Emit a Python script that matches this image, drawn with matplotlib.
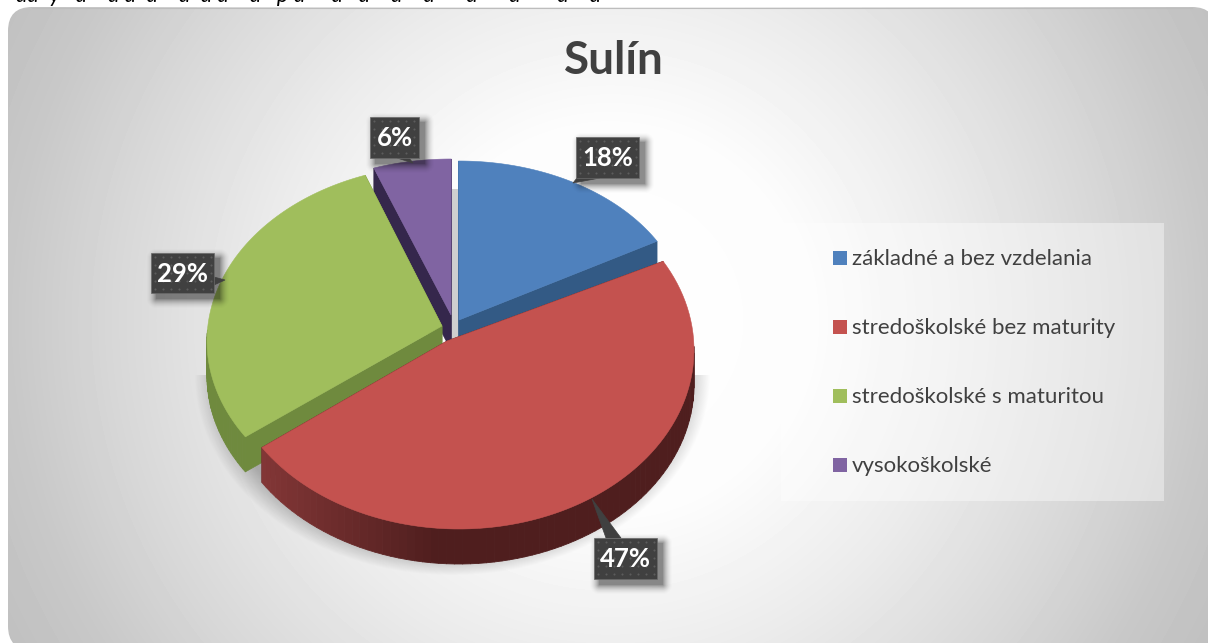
import matplotlib
matplotlib.use("Agg")
import matplotlib.pyplot as plt
import matplotlib.patches as patches
from matplotlib.collections import PolyCollection
import numpy as np

title = "Sulín"
categories = ["základné a bez vzdelania", "stredoškolské bez maturity",
              "stredoškolské s maturitou", "vysokoškolské"]
shares = [18, 47, 29, 6]

top_colors = ["#4f81bd", "#c4524f", "#a0be5c", "#8064a2"]
cut_colors = ["#335a85", "#4f1e1e", "#6f8a3e", "#35274c"]

# ellipse of each slice (cx, cy, rx, ry) and its tip, in pixels
ellipses = [(459, 320, 228, 159), (459, 350, 235, 179), (445, 341, 238, 176), (451, 315, 230, 156)]
tips = [(459, 320), (447, 341), (442, 326), (451, 315)]
thick = 35

# label box (x0, y0, x1, y1), pointer base and pointer end
boxes = [(576, 137, 639, 178), (594, 538, 657, 579), (151, 253, 214, 293), (370, 117, 419, 158)]
pointer_bases = [[(577, 178), (600, 178)], [(606, 538), (621, 538)], [(214, 277), (214, 285)], [(397, 158), (409, 158)]]
pointers = [(573, 183), (592, 499), (225, 280), (413, 163)]
legend_y = [258, 327, 396, 465]

plt.rcParams["font.family"] = ["Lato", "DejaVu Sans"]


def bump(t, mid, width):
    return np.exp(-((t - mid) / width) ** 2)


def warp(t):
    # the 3D view does not keep angles, boundaries move a few degrees on screen
    return t - 4.5 * bump(t, 65, 35) + 3 * bump(t, 234, 35) + 2 * bump(t, 338, 12)


def arc(e, t0, t1, n=90):
    t = np.radians(warp(np.linspace(t0, t1, n)))
    return e[0] + e[2] * np.sin(t), e[1] - e[3] * np.cos(t), t


def side_color(i, x):
    if i == 1:
        # red side goes dark towards the middle
        f = np.interp(x, [266, 440], [0, 1])
        a = np.array([0x82, 0x36, 0x36])
        b = np.array([0x4f, 0x1e, 0x1e])
        return tuple((a + (b - a) * f) / 255)
    if i == 2:
        return "#6f8a3e"
    return cut_colors[i]


def draw_slice(ax, i, t0, t1, z):
    e = ellipses[i]
    tip = tips[i]
    xs, ys, t = arc(e, t0, t1)
    # the two cut faces
    for px, py in [(xs[0], ys[0]), (xs[-1], ys[-1])]:
        ax.add_patch(patches.Polygon([tip, (px, py), (px, py + thick), (tip[0], tip[1] + thick)],
                                     closed=True, fc=cut_colors[i], ec=cut_colors[i], lw=0.5, zorder=z))
    # outer wall, only the front part of the ring can be seen
    quads = []
    colors = []
    for k in range(len(xs) - 1):
        if np.cos(t[k]) < 0.05:
            quads.append([(xs[k], ys[k]), (xs[k + 1], ys[k + 1]),
                          (xs[k + 1], ys[k + 1] + thick), (xs[k], ys[k] + thick)])
            colors.append(side_color(i, xs[k]))
    if quads:
        ax.add_collection(PolyCollection(quads, facecolors=colors, edgecolors=colors, linewidths=0.6, zorder=z + 0.1))
    pts = [tip] + list(zip(xs, ys))
    ax.add_patch(patches.Polygon(pts, closed=True, fc=top_colors[i], ec=top_colors[i], lw=0.4, zorder=z + 0.2))


def draw_label(ax, text, box, base, point):
    x0, y0, x1, y1 = box
    # blurred drop shadow
    yy, xx = np.mgrid[y0 - 6:y1 + 20, x0 - 6:x1 + 20]
    dx = np.maximum(np.maximum(x0 + 5 - xx, xx - (x1 + 5)), 0)
    dy = np.maximum(np.maximum(y0 + 5 - yy, yy - (y1 + 5)), 0)
    a = np.clip(1 - np.hypot(dx, dy) / 11.0, 0, 1) ** 2 * 0.45
    s = np.zeros(a.shape + (4,))
    s[..., 3] = a
    ax.imshow(s, extent=(x0 - 6, x1 + 20, y1 + 20, y0 - 6), aspect="auto", zorder=8)
    ax.add_patch(patches.Polygon(base + [point], closed=True, fc="#404040", ec="#404040", lw=0.5, zorder=8.1))
    ax.add_patch(patches.Rectangle((x0, y0), x1 - x0, y1 - y0, fc="#404040", ec="#6a6a6a", lw=0.5, zorder=8.1))
    gx, gy = np.meshgrid(np.arange(x0 + 4, x1 - 1, 8.0), np.arange(y0 + 4, y1 - 1, 8.0))
    ax.plot(gx.ravel(), gy.ravel(), ls="", marker="o", ms=1.5, mfc="#5c5c5c", mec="none", zorder=8.2)
    ax.text((x0 + x1) / 2, (y0 + y1) / 2 + 0.5, text, color="white", fontsize=18.5, fontweight="bold",
            ha="center", va="center", zorder=8.3)


fig = plt.figure(figsize=(12.08, 6.43), dpi=100, facecolor="white")
ax = fig.add_axes([0, 0, 1, 1])
ax.axis("off")

# what is left of the caption line above the chart, it is cut off in the source
ax.text(16, 2, "aa  y   a    a a  a    a  a a    a   p a     a   a    a    a      a      a       a    a", color="black",
        fontsize=16, style="italic", ha="left", va="baseline")

# background
yy, xx = np.mgrid[0:660, 0:1220]
r = np.hypot(xx - 610, yy - 320)
grey = np.interp(r, [0, 200, 350, 500, 600, 700], [255, 252, 235, 215, 200, 190]) / 255
im = ax.imshow(grey, cmap="gray", vmin=0, vmax=1, extent=(0, 1220, 660, 0), aspect="auto", zorder=1)
panel = patches.FancyBboxPatch((32, 31), 1160, 595, boxstyle="round,pad=24", fc="none", ec="none", zorder=1.1)
ax.add_patch(panel)
im.set_clip_path(panel)
ax.plot([32, 1192], [7.5, 7.5], color="#bdbdbd", lw=0.8, zorder=1.1)

# soft shadow under the pie
sy, sx = np.mgrid[375:577, 193:713]
d = np.hypot((sx - 452) / 258.0, (sy - 375) / 200.0)
shadow = np.zeros(d.shape + (4,))
shadow[..., 3] = 0.27 * np.clip((1 - d) / 0.11, 0, 1)
ax.imshow(shadow, extent=(193, 713, 577, 375), aspect="auto", zorder=1.5)

# strip seen in the gap between purple and blue
ax.add_patch(patches.Rectangle((450, 189), 10, 155, fc="#cfcfcf", ec="none", zorder=1.6))

angles = np.concatenate([[0], np.cumsum(shares)]) * 3.6
z = 2
for i in [3, 0, 2, 1]:
    draw_slice(ax, i, angles[i], angles[i + 1], z)
    z += 1

for i in range(len(shares)):
    draw_label(ax, f"{shares[i]}%", boxes[i], pointer_bases[i], pointers[i])

ax.text(613.5, 61, title, color="#404040", fontsize=33, fontweight="bold", ha="center", va="center", zorder=9)

# legend
ax.add_patch(patches.Rectangle((781, 223), 383, 278, fc="white", ec="none", alpha=0.4, zorder=1.7))
for i in range(len(categories)):
    ax.add_patch(patches.Rectangle((833, legend_y[i] - 7), 14, 14, fc=top_colors[i], ec="none", zorder=9))
    ax.text(852, legend_y[i] + 7, categories[i], color="#404040", fontsize=16, ha="left", va="baseline", zorder=9)

ax.set_xlim(0, 1208)
ax.set_ylim(643, 0)
fig.savefig("out.png", dpi=100, facecolor="white")
